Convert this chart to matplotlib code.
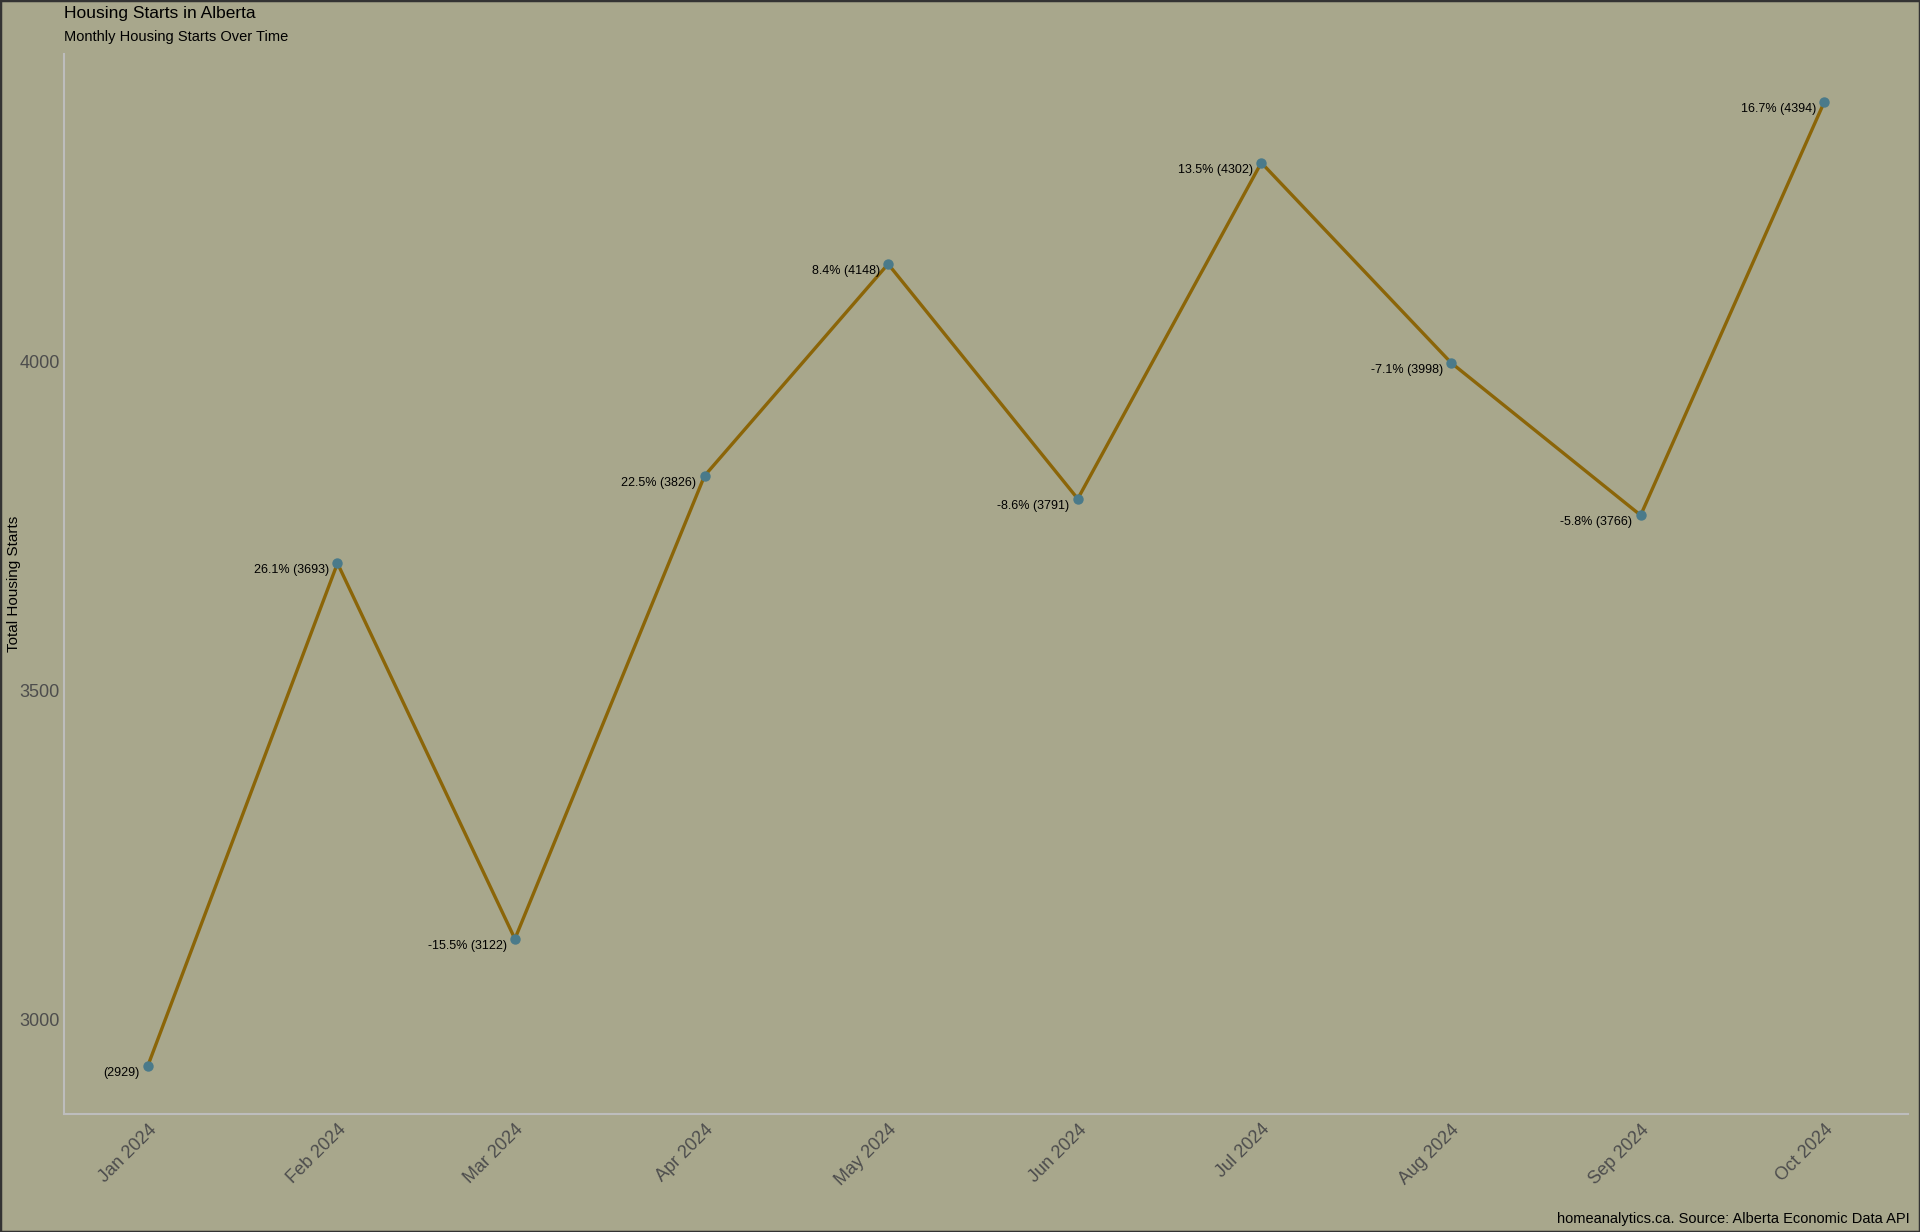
import numpy as np
import matplotlib
matplotlib.use("Agg")
import matplotlib.pyplot as plt
import matplotlib.dates as mdates

plt.rcParams['font.family'] = ['Liberation Sans', 'DejaVu Sans']

months = ['2024-01-01', '2024-02-01', '2024-03-01', '2024-04-01', '2024-05-01',
          '2024-06-01', '2024-07-01', '2024-08-01', '2024-09-01', '2024-10-01']
starts = [2929, 3693, 3122, 3826, 4148, 3791, 4302, 3998, 3766, 4394]
yticks = [3000, 3500, 4000]

dates = np.array(months, dtype='datetime64[D]')
vals = np.array(starts, dtype=float)

bg = '#A8A78C'
fig = plt.figure(figsize=(19.2, 12.32), dpi=100, facecolor=bg)
fig.patches.append(plt.Rectangle((0, 0), 1, 1, transform=fig.transFigure,
                                 fill=False, edgecolor='#333333', linewidth=2.5))

ax = fig.add_axes([64/1920, 118/1232, 1844/1920, 1060/1232])
ax.set_facecolor(bg)

ax.plot(dates, vals, color='#8B6508', linewidth=2.4, zorder=2)
ax.scatter(dates, vals, s=42, color='#4A7A8A', zorder=3)

for i in range(len(vals)):
    if i == 0:
        lab = f"({int(vals[i])})"
    else:
        pct = (vals[i] / vals[i-1] - 1) * 100
        lab = f"{pct:.1f}% ({int(vals[i])})"
    ax.annotate(lab, (mdates.date2num(dates[i]), vals[i]), xytext=(-6, -5),
                textcoords='offset points', ha='right', va='center',
                fontsize=9, color='black')

# ggplot-like expansion
span = vals.max() - vals.min()
ax.set_ylim(vals.min() - 0.05 * span, vals.max() + 0.05 * span)
x0, x1 = mdates.date2num(dates[0]), mdates.date2num(dates[-1])
xs = x1 - x0
ax.set_xlim(x0 - 0.05 * xs, x1 + 0.05 * xs)

ax.set_yticks(yticks)
ax.set_yticklabels([str(t) for t in yticks], fontsize=13, color='#4D4D4D')
ax.set_xticks([mdates.date2num(d) for d in dates])
ax.set_xticklabels([d.item().strftime('%b %Y') for d in dates], rotation=45,
                   ha='right', va='top', rotation_mode='anchor',
                   fontsize=13, color='#4D4D4D')
ax.tick_params(axis='y', length=0, pad=3)
ax.tick_params(axis='x', length=0, pad=5)

for s in ['top', 'right']:
    ax.spines[s].set_visible(False)
for s in ['left', 'bottom']:
    ax.spines[s].set_color('#BDBDBD')
    ax.spines[s].set_linewidth(1.5)

fig.text(14/1920, 1 - 584/1232, 'Total Housing Starts', fontsize=11, rotation=90,
         ha='center', va='center', color='black')

fig.text(64/1920, 1 - 6/1232, 'Housing Starts in Alberta', fontsize=12.5,
         ha='left', va='top', color='black')
fig.text(64/1920, 1 - 30/1232, 'Monthly Housing Starts Over Time', fontsize=10.5,
         ha='left', va='top', color='black')
fig.text(1910/1920, 1 - 1226/1232, 'homeanalytics.ca. Source: Alberta Economic Data API',
         fontsize=10.5, ha='right', va='bottom', color='black')

fig.savefig('out.png', dpi=100, facecolor=bg)
